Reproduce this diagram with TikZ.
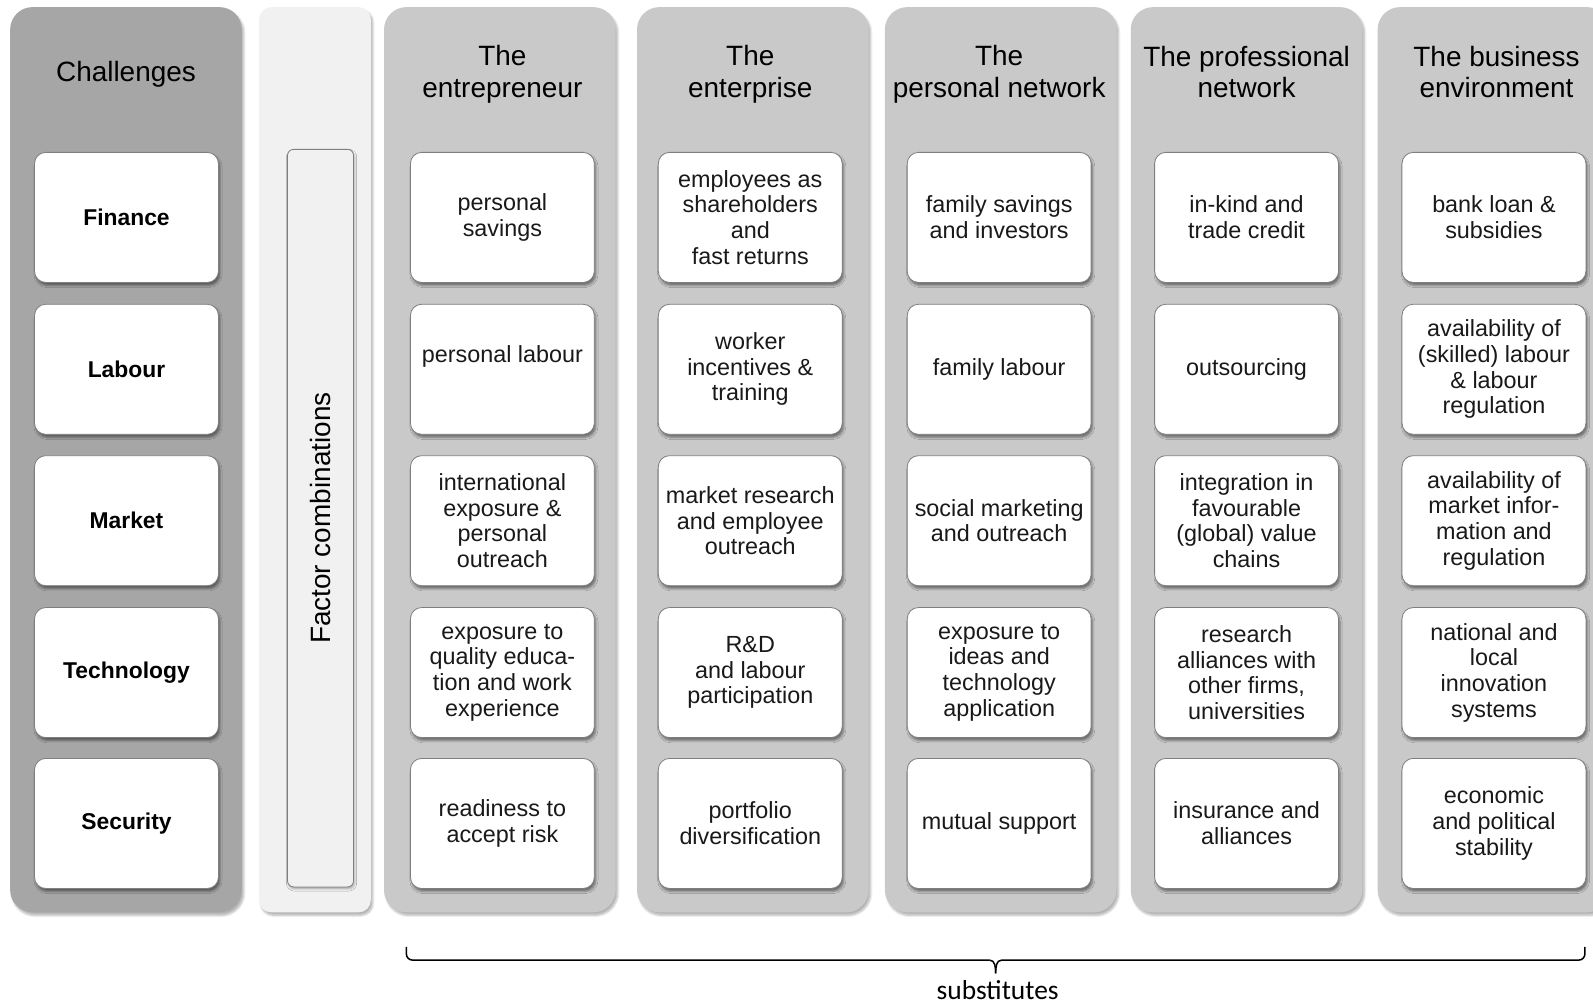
\documentclass[tikz,border=0pt]{standalone}
\usepackage{fontspec}
\setmainfont{Liberation Sans}
\newfontfamily\carlito{Carlito}
\usetikzlibrary{shadows.blur}
\definecolor{chalgrey}{HTML}{A6A6A6}
\definecolor{factgrey}{HTML}{F1F1F1}
\definecolor{colgrey}{HTML}{C9C9C9}
\definecolor{bordergrey}{HTML}{7F7F7F}
\tikzset{
  column/.style={rounded corners=22pt, minimum width=228pt, minimum height=891pt,
    inner sep=0pt, blur shadow={shadow xshift=2pt, shadow yshift=-3pt, shadow opacity=30, shadow blur steps=6}},
  cellbox/.style={draw=bordergrey, line width=0.8pt, fill=white, rounded corners=11pt,
    minimum width=181pt, minimum height=128pt, inner sep=0pt, align=center,
    blur shadow={shadow xshift=1.5pt, shadow yshift=-3pt, shadow opacity=45, shadow blur steps=4}},
  celltext/.style={align=center, font=\fontsize{23}{25.2}\selectfont, inner sep=0pt, text=black!90},
  chaltext/.style={align=center, font=\fontsize{22.5}{25}\selectfont\bfseries, inner sep=0pt},
  headtext/.style={align=center, font=\fontsize{27.5}{31}\selectfont, inner sep=0pt},
  bracestyle/.style={line width=1.5pt, black},
}
\begin{document}
\begin{tikzpicture}[x=1pt,y=-1pt]
\useasboundingbox (0,0) rectangle (1568,988);
\clip (0,0) rectangle (1568,988);
% columns
\node[column, fill=chalgrey] (cchal) at (124,452.5) {};
\node[column, fill=factgrey, minimum width=110pt, rounded corners=12pt] (cfact) at (310,452.5) {};
\node[column, fill=colgrey] (centre) at (492,452.5) {};
\node[column, fill=colgrey] (centp) at (741,452.5) {};
\node[column, fill=colgrey] (cpn) at (985,452.5) {};
\node[column, fill=colgrey] (cprof) at (1227,452.5) {};
\node[column, fill=colgrey] (cbiz) at (1470,452.5) {};
% factor bar
\node[draw=bordergrey, line width=0.8pt, fill=factgrey, rounded corners=6pt, minimum width=65pt,
  minimum height=726pt, inner sep=0pt,
  blur shadow={shadow xshift=1pt, shadow yshift=-2pt, shadow opacity=30, shadow blur steps=3}] (fbar) at (315.5,510) {};
\node[headtext, rotate=90] (ftext) at (fbar.center) {Factor combinations};
% headers
\node[headtext] (hchal) at (124,73) {Challenges};
\node[headtext] (hentre) at (494.5,73) {The\\entrepreneur};
\node[headtext] (hentp) at (738.5,73) {The\\enterprise};
\node[headtext] (hpn) at (983.5,73) {The\\personal network};
\node[headtext] (hprof) at (1227,71) {The professional\\network};
\node[headtext] (hbiz) at (1473,71) {The business\\environment};
% challenge boxes
\node[cellbox] (ch1) at (124.5,214) {};
\node[cellbox] (ch2) at (124.5,363.5) {};
\node[cellbox] (ch3) at (124.5,512.5) {};
\node[cellbox] (ch4) at (124.5,662) {};
\node[cellbox] (ch5) at (124.5,810.5) {};
\node[chaltext] at (ch1) {Finance};
\node[chaltext] at (ch2) {Labour};
\node[chaltext] at (ch3) {Market};
\node[chaltext] at (ch4) {Technology};
\node[chaltext] at (ch5) {Security};
% entrepreneur
\node[cellbox] (e1) at (494.5,214) {};
\node[cellbox] (e2) at (494.5,363.5) {};
\node[cellbox] (e3) at (494.5,512.5) {};
\node[cellbox] (e4) at (494.5,662) {};
\node[cellbox] (e5) at (494.5,810.5) {};
\node[celltext] at (e1) {personal\\savings};
\node[celltext] at ([yshift=13pt]e2.center) {personal labour};
\node[celltext] at (e3) {international\\exposure \&\\personal\\outreach};
\node[celltext] at (e4) {exposure to\\quality educa-\\tion and work\\experience};
\node[celltext] at (e5) {readiness to\\accept risk};
% enterprise
\node[cellbox] (p1) at (738.5,214) {};
\node[cellbox] (p2) at (738.5,363.5) {};
\node[cellbox] (p3) at (738.5,512.5) {};
\node[cellbox] (p4) at (738.5,662) {};
\node[cellbox] (p5) at (738.5,810.5) {};
\node[celltext] at (p1) {employees as\\shareholders\\and\\fast returns};
\node[celltext] at (p2) {worker\\incentives \&\\training};
\node[celltext] at (p3) {market research\\and employee\\outreach};
\node[celltext] at (p4) {R\&D\\and labour\\participation};
\node[celltext] at (p5) {portfolio\\diversification};
% personal network
\node[cellbox] (n1) at (983.5,214) {};
\node[cellbox] (n2) at (983.5,363.5) {};
\node[cellbox] (n3) at (983.5,512.5) {};
\node[cellbox] (n4) at (983.5,662) {};
\node[cellbox] (n5) at (983.5,810.5) {};
\node[celltext] at (n1) {family savings\\and investors};
\node[celltext] at (n2) {family labour};
\node[celltext] at (n3) {social marketing\\and outreach};
\node[celltext] at (n4) {exposure to\\ideas and\\technology\\application};
\node[celltext] at (n5) {mutual support};
% professional network
\node[cellbox] (r1) at (1227,214) {};
\node[cellbox] (r2) at (1227,363.5) {};
\node[cellbox] (r3) at (1227,512.5) {};
\node[cellbox] (r4) at (1227,662) {};
\node[cellbox] (r5) at (1227,810.5) {};
\node[celltext] at (r1) {in-kind and\\trade credit};
\node[celltext] at (r2) {outsourcing};
\node[celltext] at (r3) {integration in\\favourable\\(global) value\\chains};
\node[celltext] at (r4) {research\\alliances with\\other firms,\\universities};
\node[celltext] at (r5) {insurance and\\alliances};
% business environment
\node[cellbox] (b1) at (1470.5,214) {};
\node[cellbox] (b2) at (1470.5,363.5) {};
\node[cellbox] (b3) at (1470.5,512.5) {};
\node[cellbox] (b4) at (1470.5,662) {};
\node[cellbox] (b5) at (1470.5,810.5) {};
\node[celltext] at (b1) {bank loan \&\\subsidies};
\node[celltext] at (b2) {availability of\\(skilled) labour\\\& labour\\regulation};
\node[celltext] at (b3) {availability of\\market infor-\\mation and\\regulation};
\node[celltext] at (b4) {national and\\local\\innovation\\systems};
\node[celltext] at (b5) {economic\\and political\\stability};
% brace
\coordinate (bl) at (400,932);
\coordinate (br) at (1560,932);
\coordinate (bm) at (980,958);
\draw[bracestyle, rounded corners=6pt] (bl) |- (974,945);
\draw[bracestyle, rounded corners=6pt] (br) |- (986,945);
\draw[bracestyle] (974,945) to[out=0,in=90] (bm);
\draw[bracestyle] (986,945) to[out=180,in=90] (bm);
\node[inner sep=0pt, font=\carlito\fontsize{27}{30}\selectfont] (subs) at (982,975) {substitutes};
\end{tikzpicture}
\end{document}
